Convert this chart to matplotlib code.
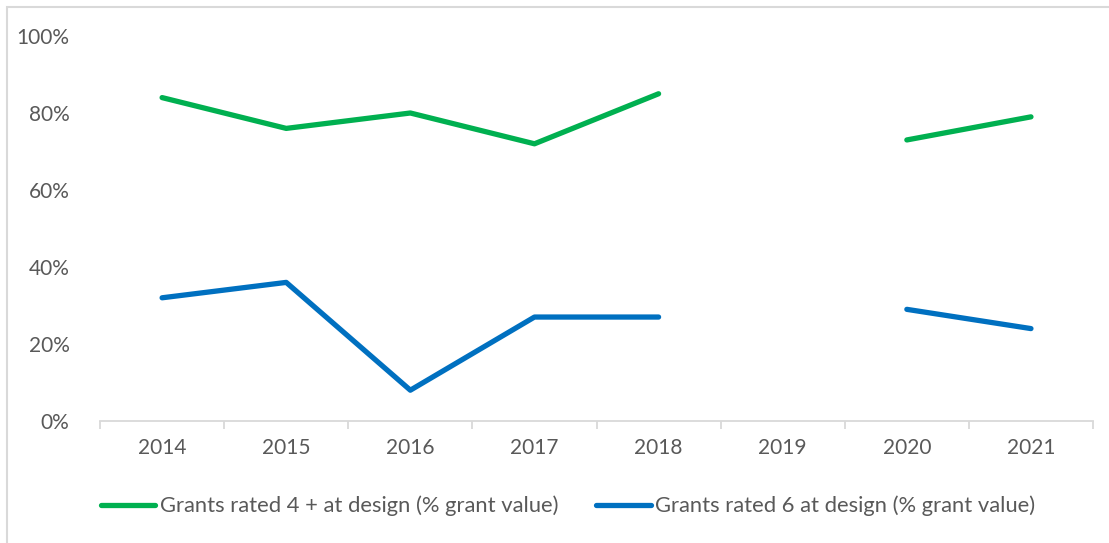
import matplotlib
matplotlib.use("Agg")
from matplotlib import pyplot as plt
from matplotlib.patches import Rectangle
import numpy as np

years = ["2014", "2015", "2016", "2017", "2018", "2019", "2020", "2021"]
rated_4_plus = [84, 76, 80, 72, 85, np.nan, 73, 79]
rated_6 = [32, 36, 8, 27, 27, np.nan, 29, 24]

plt.rcParams['font.family'] = ['Lato', 'DejaVu Sans']
GREY_TEXT = '#595959'
GREY_LINE = '#D9D9D9'

fig = plt.figure(figsize=(11.09, 5.43), dpi=100)
ax = fig.add_axes([0.0902, 0.2247, 0.8954, 0.709])

x = np.arange(len(years))
ax.plot(x, rated_4_plus, color='#00B050', lw=3.8, solid_capstyle='round',
        label='Grants rated 4 + at design (% grant value)')
ax.plot(x, rated_6, color='#0070C0', lw=3.8, solid_capstyle='round',
        label='Grants rated 6 at design (% grant value)')

ax.set_xlim(-0.5, len(years) - 0.5)
ax.set_ylim(0, 100)
ax.set_yticks(np.arange(0, 101, 20))
ax.set_yticklabels([f"{v}%" for v in range(0, 101, 20)])
ax.set_xticks(x)
ax.set_xticklabels(years)
ax.set_xticks(np.arange(-0.5, len(years), 1), minor=True)
ax.tick_params(axis='x', which='major', length=0, pad=12, labelsize=15, labelcolor=GREY_TEXT)
ax.tick_params(axis='x', which='minor', length=6, color=GREY_LINE, width=1.3)
ax.tick_params(axis='y', length=0, pad=22, labelsize=15, labelcolor=GREY_TEXT)

for s in ['top', 'right', 'left']:
    ax.spines[s].set_visible(False)
ax.spines['bottom'].set_color(GREY_LINE)
ax.spines['bottom'].set_linewidth(1.3)

leg = fig.legend(loc='center', bbox_to_anchor=(0.512, 0.068), ncol=2, frameon=False,
                 fontsize=15.8, handlelength=2.5, handletextpad=0.2, columnspacing=1.7)
for t in leg.get_texts():
    t.set_color(GREY_TEXT)

fig.patches.append(Rectangle((7 / 1109, -0.1), 1.2, 1.1 - 7 / 543,
                             transform=fig.transFigure, fill=False,
                             edgecolor=GREY_LINE, lw=1.5))

fig.savefig('out.png', dpi=100)
